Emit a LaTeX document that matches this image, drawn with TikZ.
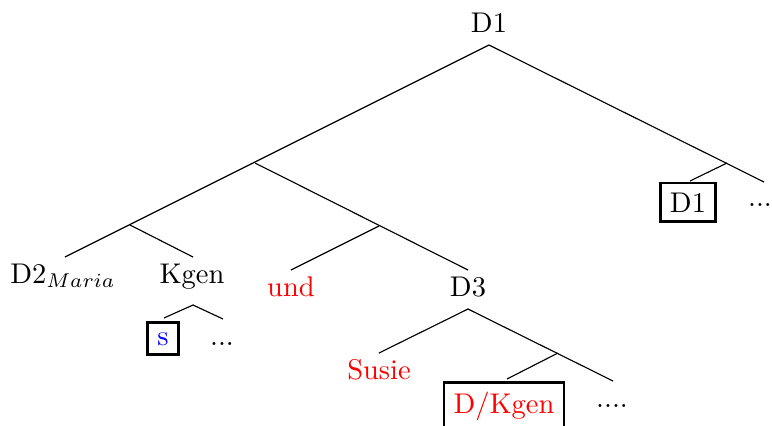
\documentclass[tikz,border=0pt]{standalone}
\begin{document}
\begin{tikzpicture}[x=0.351pt,y=-0.351pt,
  lbl/.style={anchor=base,inner sep=0pt},
  boxed/.style={anchor=base,draw,line width=1pt,inner sep=3.33pt},
  edge/.style={line width=0.4pt}]
\useasboundingbox (0,0) rectangle (772,425);
% labels
\node[lbl] (d1) at (489,32) {D1};
\node[lbl] (d2) at (63,283) {D2$_{Maria}$};
\node[lbl] (kgen) at (192,283) {Kgen};
\node[boxed,text=blue] (s) at (163,345) {s};
\node[lbl] (kdots) at (222,345) {...};
\node[lbl,text=red] (und) at (291,296) {und};
\node[lbl] (d3) at (468,296) {D3};
\node[lbl,text=red] (susie) at (379,379) {Susie};
\node[boxed,text=red] (dk) at (504,413) {D/Kgen};
\node[lbl] (ddots) at (612,407) {....};
\node[boxed] (d1b) at (688,212) {D1};
\node[lbl] (rdots) at (760,206) {...};
% branch points and ends
\coordinate (a) at (489,45);
\coordinate (b) at (255,163);
\coordinate (c) at (130,225);
\coordinate (e) at (379,226);
\coordinate (f) at (727,163);
\coordinate (d2t) at (65,257);
\coordinate (kgent) at (193,257);
\coordinate (undt) at (291,270);
\coordinate (d3t) at (468,270);
\coordinate (rt) at (764,182);
\coordinate (d1bt) at (690,181);
\coordinate (k) at (193,305);
\coordinate (st) at (164,318);
\coordinate (kdt) at (223,319);
\coordinate (g) at (468,309);
\coordinate (h) at (558,353);
\coordinate (susiet) at (379,353);
\coordinate (ddt) at (613,381);
\coordinate (dkt) at (507,379);
% edges
\draw[edge] (a) -- (d2t);
\draw[edge] (a) -- (rt);
\draw[edge] (f) -- (d1bt);
\draw[edge] (c) -- (kgent);
\draw[edge] (b) -- (d3t);
\draw[edge] (e) -- (undt);
\draw[edge] (st) -- (k) -- (kdt);
\draw[edge] (susiet) -- (g) -- (ddt);
\draw[edge] (h) -- (dkt);
\end{tikzpicture}
\end{document}
